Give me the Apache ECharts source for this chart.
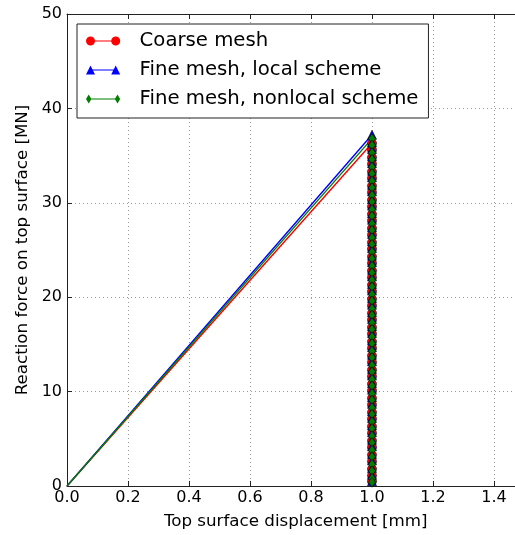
<!DOCTYPE html>
<html>
<head>
<meta charset="utf-8">
<script src="https://cdn.jsdelivr.net/npm/echarts@6/dist/echarts.min.js"></script>
<style>
html,body{margin:0;padding:0;background:#fff;overflow:hidden;width:515px;height:535px;}
#c{width:530px;height:535px;}
</style>
</head>
<body>
<div id="c"></div>
<script>
// ---- data ----
const seriesNames = ['Coarse mesh', 'Fine mesh, local scheme', 'Fine mesh, nonlocal scheme'];
const xTicks = [0.0, 0.2, 0.4, 0.6, 0.8, 1.0, 1.2, 1.4];
const yTicks = [0, 10, 20, 30, 40, 50];

// loading branch: (displacement, force)
const coarseX = [0.0, 1.0];
const coarseY = [0.0, 36.3];
const fineLocalX = [0.0, 1.0];
const fineLocalY = [0.0, 37.2];
const fineNonlocalX = [0.0, 1.0];
const fineNonlocalY = [0.0, 36.8];

// softening branch at displacement 1.0 (force values, descending)
const dropX = 1.0;
const coarseDrop = [35.6, 34.8, 34.1, 33.3, 32.6, 31.8, 31.1, 30.3, 29.6, 28.8, 28.1, 27.3, 26.6, 25.8,
  25.1, 24.3, 23.6, 22.8, 22.1, 21.3, 20.6, 19.8, 19.1, 18.3, 17.6, 16.8, 16.1, 15.3, 14.6, 13.8,
  13.1, 12.3, 11.6, 10.8, 10.1, 9.3, 8.6, 7.8, 7.1, 6.3, 5.6, 4.8, 4.1, 3.3, 2.6, 1.8, 1.1, 0.5];
const fineLocalDrop = [36.4, 35.7, 34.9, 34.2, 33.4, 32.7, 31.9, 31.2, 30.4, 29.7, 28.9, 28.2, 27.4, 26.7,
  25.9, 25.2, 24.4, 23.7, 22.9, 22.2, 21.4, 20.7, 19.9, 19.2, 18.4, 17.7, 16.9, 16.2, 15.4, 14.7,
  13.9, 13.2, 12.4, 11.7, 10.9, 10.2, 9.4, 8.7, 7.9, 7.2, 6.4, 5.7, 4.9, 4.2, 3.4, 2.7, 1.9, 1.2, 0.5];
const fineNonlocalDrop = [36.1, 35.3, 34.6, 33.8, 33.1, 32.3, 31.6, 30.8, 30.1, 29.3, 28.6, 27.8, 27.1, 26.3,
  25.6, 24.8, 24.1, 23.3, 22.6, 21.8, 21.1, 20.3, 19.6, 18.8, 18.1, 17.3, 16.6, 15.8, 15.1, 14.3,
  13.6, 12.8, 12.1, 11.3, 10.6, 9.8, 9.1, 8.3, 7.6, 6.8, 6.1, 5.3, 4.6, 3.8, 3.1, 2.3, 1.6, 0.8, 0.4];

// ---- build ----
function buildData(xs, ys, drop) {
  const out = [];
  for (let i = 0; i < xs.length; i++) {
    if (i === 0) out.push({ value: [xs[i], ys[i]], symbol: 'none' });
    else out.push([xs[i], ys[i]]);
  }
  drop.forEach(v => out.push([dropX, v]));
  return out;
}

const FONT = 'DejaVu Sans';
const colors = ['#ff0000', '#0000ff', '#007f00'];
const iconCircle = 'path://M0,5A5,5,0,1,1,10,5A5,5,0,1,1,0,5ZM9,4.4L29,4.4L29,5.6L9,5.6ZM28,5A5,5,0,1,1,38,5A5,5,0,1,1,28,5Z';
const iconTri = 'path://M0,10L5,0L10,10ZM5,4.4L33,4.4L33,5.6L5,5.6ZM28,10L33,0L38,10Z';
const iconDiamond = 'path://M0,5L3,0L6,5L3,10ZM3,4.4L35,4.4L35,5.6L3,5.6ZM32,5L35,0L38,5L35,10Z';

const X_MAX = 1.5;
const tickFmt = v => {
  const k = v * 5;
  return (Math.abs(k - Math.round(k)) < 1e-6 && v < 1.45) ? v.toFixed(1) : '';
};

const chart = echarts.init(document.getElementById('c'), null, { renderer: 'canvas' });
chart.setOption({
  animation: false,
  backgroundColor: '#fff',
  grid: {
    left: 67, top: 14, width: 457.5, height: 473,
    show: false
  },
  legend: {
    orient: 'vertical',
    left: 77, top: 24,
    padding: [6, 10, 8, 9],
    itemGap: 7,
    itemWidth: 37, itemHeight: 9,
    borderColor: '#222', borderWidth: 1,
    backgroundColor: '#fff',
    itemStyle: { borderWidth: 0 },
    textStyle: { fontFamily: FONT, fontSize: 19.7, color: '#000', lineHeight: 22, padding: [0, 0, 0, 13] },
    data: [
      { name: seriesNames[0], icon: iconCircle },
      { name: seriesNames[1], icon: iconTri },
      { name: seriesNames[2], icon: iconDiamond }
    ]
  },
  xAxis: [{
    type: 'value', min: 0, max: X_MAX, interval: 0.2,
    name: 'Top surface displacement [mm]',
    nameLocation: 'middle', nameGap: 27,
    nameTextStyle: { fontFamily: FONT, fontSize: 16.7, color: '#000' },
    axisLine: { show: true, lineStyle: { color: '#222', width: 1 } },
    axisTick: { show: true, inside: true, length: 5, lineStyle: { color: '#222' } },
    axisLabel: { fontFamily: FONT, fontSize: 16, color: '#000', margin: 4, formatter: tickFmt },
    splitLine: { show: true, lineStyle: { color: '#999', type: [1, 3], width: 1 } }
  }, {
    type: 'value', min: 0, max: X_MAX, interval: 0.2, position: 'top',
    axisLine: { show: true, lineStyle: { color: '#222', width: 1 } },
    axisTick: { show: true, inside: true, length: 5, lineStyle: { color: '#222' } },
    axisLabel: { show: false },
    splitLine: { show: false }
  }],
  yAxis: [{
    type: 'value', min: 0, max: 50, interval: 10,
    name: 'Reaction force on top surface [MN]',
    nameLocation: 'middle', nameGap: 35, nameRotate: 90,
    nameTextStyle: { fontFamily: FONT, fontSize: 16.7, color: '#000' },
    axisLine: { show: true, lineStyle: { color: '#222', width: 1 } },
    axisTick: { show: true, inside: true, length: 5, lineStyle: { color: '#222' } },
    axisLabel: { fontFamily: FONT, fontSize: 16, color: '#000', margin: 5 },
    splitLine: { show: true, lineStyle: { color: '#999', type: [1, 3], width: 1 } }
  }],
  series: [
    {
      name: seriesNames[0], type: 'line', xAxisIndex: 0,
      data: buildData(coarseX, coarseY, coarseDrop),
      symbol: 'circle', symbolSize: 9, showAllSymbol: true,
      lineStyle: { color: colors[0], width: 1.4 },
      itemStyle: { color: colors[0], borderColor: '#000', borderWidth: 0.6 },
      emphasis: { disabled: true }
    },
    {
      name: seriesNames[1], type: 'line', xAxisIndex: 0,
      data: buildData(fineLocalX, fineLocalY, fineLocalDrop),
      symbol: 'triangle', symbolSize: 9, showAllSymbol: true,
      lineStyle: { color: colors[1], width: 1.4 },
      itemStyle: { color: colors[1], borderColor: '#000', borderWidth: 0.6 },
      emphasis: { disabled: true }
    },
    {
      name: seriesNames[2], type: 'line', xAxisIndex: 0,
      data: buildData(fineNonlocalX, fineNonlocalY, fineNonlocalDrop),
      symbol: 'diamond', symbolSize: [7, 10], showAllSymbol: true,
      lineStyle: { color: colors[2], width: 1.4 },
      itemStyle: { color: colors[2], borderColor: '#000', borderWidth: 0.6 },
      emphasis: { disabled: true }
    }
  ]
});
</script>
</body>
</html>
